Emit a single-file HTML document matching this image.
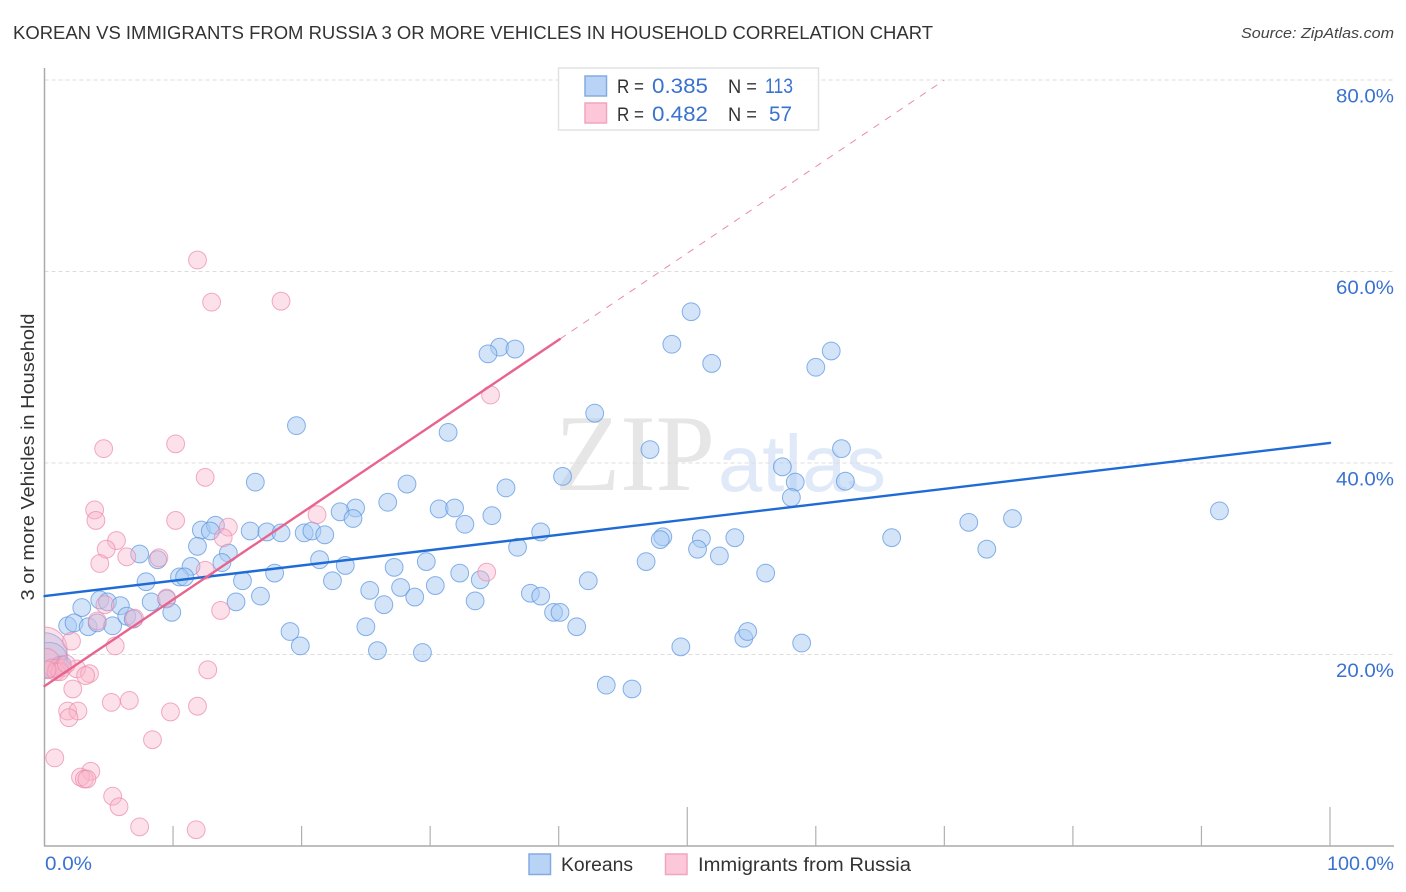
<!DOCTYPE html>
<html lang="en">
<head>
<meta charset="utf-8">
<title>Korean vs Immigrants from Russia correlation chart</title>
<style>
html,body{margin:0;padding:0;background:#fff;}
svg{display:block;font-family:"Liberation Sans",sans-serif;}
</style>
</head>
<body>
<svg id="chart" xmlns="http://www.w3.org/2000/svg" width="1406" height="892" viewBox="0 0 1406 892">
  <defs><clipPath id="plot-clip"><rect x="45" y="60" width="1349" height="786"/></clipPath></defs>
  <rect x="0" y="0" width="1406" height="892" fill="#fff"/>
  <text x="13" y="39" font-size="18" fill="#333" textLength="920" lengthAdjust="spacingAndGlyphs">KOREAN VS IMMIGRANTS FROM RUSSIA 3 OR MORE VEHICLES IN HOUSEHOLD CORRELATION CHART</text>
  <text x="1241" y="38" font-size="15" font-style="italic" fill="#444" textLength="153" lengthAdjust="spacingAndGlyphs">Source: ZipAtlas.com</text>
  <text x="555" y="490" font-family="'Liberation Serif',serif" font-size="109" fill="#e6e6e6" textLength="160" lengthAdjust="spacingAndGlyphs">ZIP</text>
  <text x="718" y="491" font-size="80" fill="#dfe9f8" textLength="168" lengthAdjust="spacingAndGlyphs">atlas</text>
  <g id="grid"></g>
  <g id="axes"></g>
  <g id="points" clip-path="url(#plot-clip)"></g>
  <g id="trends"></g>
  <g id="labels"></g>
  <text transform="translate(34,457) rotate(-90)" text-anchor="middle" font-size="18" fill="#333" textLength="287" lengthAdjust="spacingAndGlyphs">3 or more Vehicles in Household</text>

  <g>
    <rect x="558.5" y="68" width="260" height="62" fill="#fff" fill-opacity="0.88" stroke="#e2e2e2" stroke-width="1.5"/>
    <rect x="585" y="76" width="21.5" height="20" fill="#b9d3f6" stroke="#84abe0" stroke-width="1.5"/>
    <rect x="585" y="103" width="21.5" height="20" fill="#fcc8d9" stroke="#f0a6bd" stroke-width="1.5"/>
    <text x="617" y="93" font-size="19" fill="#333" textLength="27" lengthAdjust="spacingAndGlyphs">R =</text>
    <text x="652" y="93" font-size="21" fill="#3a72cf" textLength="56" lengthAdjust="spacingAndGlyphs">0.385</text>
    <text x="728" y="93" font-size="19" fill="#333" textLength="29" lengthAdjust="spacingAndGlyphs">N =</text>
    <text x="765" y="93" font-size="21" fill="#3a72cf" textLength="28" lengthAdjust="spacingAndGlyphs">113</text>
    <text x="617" y="121" font-size="19" fill="#333" textLength="27" lengthAdjust="spacingAndGlyphs">R =</text>
    <text x="652" y="121" font-size="21" fill="#3a72cf" textLength="56" lengthAdjust="spacingAndGlyphs">0.482</text>
    <text x="728" y="121" font-size="19" fill="#333" textLength="29" lengthAdjust="spacingAndGlyphs">N =</text>
    <text x="769" y="121" font-size="21" fill="#3a72cf" textLength="23" lengthAdjust="spacingAndGlyphs">57</text>
  </g>

  <g>
    <rect x="529" y="854" width="21.5" height="20.5" fill="#b9d3f6" stroke="#84abe0" stroke-width="1.5"/>
    <text x="561" y="871" font-size="19" fill="#333" textLength="72" lengthAdjust="spacingAndGlyphs">Koreans</text>
    <rect x="665.5" y="854" width="21.5" height="20.5" fill="#fcc8d9" stroke="#f0a6bd" stroke-width="1.5"/>
    <text x="698" y="871" font-size="19" fill="#333" textLength="213" lengthAdjust="spacingAndGlyphs">Immigrants from Russia</text>
  </g>
</svg>
<script>
// ---- data (percent units) ----
const koreanX = [50.3,48.8,51.9,60.0,61.2,35.4,34.5,36.6,42.8,19.6,31.4,47.1,62.0,16.4,57.4,58.4,62.3,58.1,40.3,35.9,28.2,26.7,24.2,23.0,24.0,30.7,31.9,32.7,34.8,38.6,91.4,75.3,71.9,65.9,73.3,16.0,17.3,18.4,12.2,13.3,12.9,11.9,20.2,20.8,21.8,7.4,8.8,14.3,13.8,11.4,21.4,23.4,29.7,27.2,36.8,48.1,47.9,51.1,53.7,50.8,52.5,46.8,56.1,42.3,7.9,10.5,10.9,15.4,17.9,22.4,32.3,33.9,30.4,27.7,25.3,16.8,14.9,8.3,9.5,4.3,4.9,5.9,9.9,2.9,26.4,28.8,33.5,37.8,38.6,39.6,40.1,41.4,25.0,19.1,19.9,25.9,29.4,49.5,54.4,54.7,58.9,43.7,45.7,1.8,2.3,3.4,4.1,5.3,6.4,6.9,1.2,1.4];
const koreanY = [55.8,52.4,50.4,50.0,51.7,52.1,51.4,51.9,45.2,43.9,43.2,41.4,41.5,38.0,39.6,38.0,38.1,36.4,38.6,37.4,37.8,35.9,35.3,34.9,34.2,35.2,35.3,33.6,34.5,32.8,35.0,34.2,33.8,32.2,31.0,32.9,32.8,32.7,33.0,33.5,32.9,31.3,32.7,32.9,32.5,30.5,29.9,30.6,29.6,29.2,29.9,29.3,29.7,29.1,31.2,32.3,32.0,32.1,32.2,31.0,30.3,29.7,28.5,27.7,27.6,28.1,28.1,27.7,28.5,27.7,28.5,27.8,27.2,27.0,26.7,26.1,25.5,25.5,25.8,25.7,25.5,25.1,24.4,24.9,25.2,26.0,25.6,26.4,26.1,24.4,24.4,22.9,22.9,22.4,20.9,20.4,20.2,20.8,21.7,22.4,21.2,16.8,16.4,23.0,23.3,22.9,23.3,23.0,24.0,23.7,18.9,18.9];
const koreanBigX = [0.0,0.4];
const koreanBigY = [19.9,19.4];
const koreanBigWeight = [6.5,4];

const russiaX = [11.9,13.0,18.4,34.7,10.2,4.6,12.5,3.9,4.0,10.2,5.6,4.8,14.3,13.9,21.2,4.3,6.4,8.9,12.5,34.4,9.5,4.7,13.7,7.0,4.1,5.5,2.1,12.7,2.5,3.5,3.2,2.2,5.2,6.6,1.8,2.6,1.9,9.8,11.9,8.4,0.8,3.6,2.8,3.1,3.3,5.3,5.8,7.4,11.8,0.6,1.0,1.4,0.9,1.2,1.7,0.2];
const russiaY = [61.2,56.8,56.9,47.1,42.0,41.5,38.5,35.1,34.0,34.0,31.9,31.0,33.3,32.2,34.6,29.5,30.2,30.1,28.8,28.6,25.9,25.2,24.6,23.8,23.5,20.9,21.4,18.4,18.5,18.0,17.8,16.4,15.0,15.2,14.1,14.1,13.4,14.0,14.6,11.1,9.2,7.8,7.2,7.0,7.0,5.2,4.1,2.0,1.7,18.6,18.6,18.6,18.2,18.2,19.0,18.4];
const russiaBigX = [0.0,0.1];
const russiaBigY = [20.5,19.2];
const russiaBigWeight = [6.5,2.4];

const koreanTrendX = [0,100];
const koreanTrendY = [26.1,42.1];
const russiaTrendX = [0,40.1];
const russiaTrendY = [16.7,52.95];
const russiaExtrapX = [40.1,70];
const russiaExtrapY = [52.95,80];

const yTicks = [20,40,60,80];
const yTickLabels = ['20.0%','40.0%','60.0%','80.0%'];
const xTicks = [10,20,30,40,50,60,70,80,90,100];
const xEndLabels = ['0.0%','100.0%'];

// ---- axis functions ----
const xs = v => 44.5 + v * 12.855;
const ys = v => 846 - v * 9.575;
const rs = w => 8.9 * Math.sqrt(w);
const NS = 'http://www.w3.org/2000/svg';
function mk(parent, tag, attrs){
  const el = document.createElementNS(NS, tag);
  for (const k in attrs) el.setAttribute(k, attrs[k]);
  parent.appendChild(el);
  return el;
}
const grid = document.getElementById('grid');
const axes = document.getElementById('axes');
const points = document.getElementById('points');
const trends = document.getElementById('trends');
const labels = document.getElementById('labels');

yTicks.forEach(t => {
  const g = mk(grid, 'line', {x1:44.5, x2:1394, y1:ys(t), y2:ys(t), stroke:'#dcdcdc', 'stroke-width':1, 'stroke-dasharray':'4 3'});
  
  
});
const yAxis = mk(axes, 'line', {x1:44.5, x2:44.5, y1:68, y2:846.5, stroke:'#aaa', 'stroke-width':1.5});


const xAxis = mk(axes, 'line', {x1:44, x2:1394, y1:846, y2:846, stroke:'#aaa', 'stroke-width':1.5});


xTicks.forEach(t => {
  const long = t % 50 === 0;
  const tick = mk(axes, 'line', {x1:xs(t), x2:xs(t), y1:long ? 807 : 826, y2:846, stroke:'#b0b0b0', 'stroke-width':1.2});
  
  
});

function dot(x, y, w, kind){
  const blue = kind === 'korean';
  const c = mk(points, 'circle', {
    cx:xs(x), cy:ys(y), r:rs(w),
    fill: blue ? '#a8c9f4' : '#f9b4ca',
    'fill-opacity': blue ? 0.5 : 0.4,
    stroke: blue ? '#5a94e0' : '#ec8aaa',
    'stroke-opacity': 0.72,
    'stroke-width': 1
  });
  
  
}
koreanBigX.forEach((x,i) => dot(x, koreanBigY[i], koreanBigWeight[i], 'korean'));
koreanX.forEach((x,i) => dot(x, koreanY[i], 1, 'korean'));
russiaBigX.forEach((x,i) => dot(x, russiaBigY[i], russiaBigWeight[i], 'russia'));
russiaX.forEach((x,i) => dot(x, russiaY[i], 1, 'russia'));

const tk = mk(trends, 'line', {x1:xs(koreanTrendX[0]), y1:ys(koreanTrendY[0]), x2:xs(koreanTrendX[1]), y2:ys(koreanTrendY[1]), stroke:'#1f6bd6', 'stroke-width':2.4, 'stroke-linecap':'round'});


const tr = mk(trends, 'line', {x1:xs(russiaTrendX[0]), y1:ys(russiaTrendY[0]), x2:xs(russiaTrendX[1]), y2:ys(russiaTrendY[1]), stroke:'#e8648f', 'stroke-width':2.4, 'stroke-linecap':'round'});


const te = mk(trends, 'line', {x1:xs(russiaExtrapX[0]), y1:ys(russiaExtrapY[0]), x2:xs(russiaExtrapX[1]), y2:ys(russiaExtrapY[1]), stroke:'#eb8aa9', 'stroke-width':1, 'stroke-dasharray':'7 7'});



yTicks.forEach((t,i) => {
  const l = mk(labels, 'text', {x:1394, y:ys(t)+22.5, 'text-anchor':'end', 'font-size':19.5, fill:'#3a72cf', textLength:58, lengthAdjust:'spacingAndGlyphs'});
  l.textContent = yTickLabels[i];
  
  
});
const x0 = mk(labels, 'text', {x:45, y:870, 'font-size':19.5, fill:'#3a72cf', textLength:47, lengthAdjust:'spacingAndGlyphs'});
x0.textContent = xEndLabels[0];


const x1 = mk(labels, 'text', {x:1327, y:870, 'font-size':19.5, fill:'#3a72cf', textLength:67, lengthAdjust:'spacingAndGlyphs'});
x1.textContent = xEndLabels[1];


</script>
</body>
</html>
